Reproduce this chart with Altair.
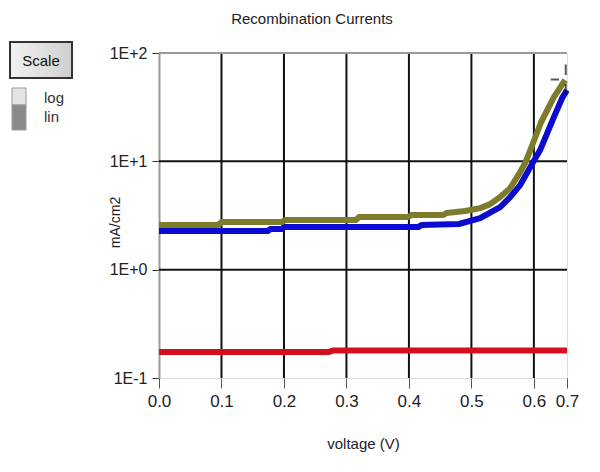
import altair as alt
import pandas as pd

# ---- data ----
olive_v = [0.0, 0.094, 0.100, 0.196, 0.202, 0.315, 0.320, 0.398, 0.404, 0.455, 0.46, 0.49, 0.514,
           0.53, 0.546, 0.562, 0.578, 0.586, 0.590, 0.611, 0.632, 0.650]
olive_i = [2.58, 2.58, 2.75, 2.75, 2.87, 2.87, 3.06, 3.06, 3.19, 3.19, 3.33, 3.48, 3.70,
           4.03, 4.68, 5.66, 7.96, 9.64, 10.96, 22.6, 39.2, 56.3]

blue_v = [0.0, 0.174, 0.178, 0.196, 0.200, 0.415, 0.420, 0.48, 0.514, 0.546, 0.562, 0.578,
          0.598, 0.61, 0.632, 0.646, 0.653]
blue_i = [2.27, 2.27, 2.37, 2.37, 2.47, 2.47, 2.58, 2.64, 2.99, 3.78, 4.68, 6.04,
          9.64, 12.7, 25.6, 39.2, 45.5]

red_v = [0.0, 0.272, 0.278, 0.653]
red_i = [0.174, 0.174, 0.179, 0.179]

series_names = ["red", "blue", "olive"]
series_colors = ["#d4101e", "#0c0cd0", "#7c7c2a"]

x_ticks = [0.0, 0.1, 0.2, 0.3, 0.4, 0.5, 0.6, 0.653]
x_grid = [0.1, 0.2, 0.3, 0.4, 0.5, 0.6]
y_ticks = [0.1, 1, 10, 100]
y_grid = [1, 10]
cursor_v = [0.651]
cursor_i = [57]

FONT = "Liberation Sans, Arial, sans-serif"
W, H = 408, 325

rows = []
for name, vs, cs in [("red", red_v, red_i), ("blue", blue_v, blue_i), ("olive", olive_v, olive_i)]:
    for k, (v, c) in enumerate(zip(vs, cs)):
        rows.append({"series": name, "order": k, "V": v, "I": c})
df = pd.DataFrame(rows)

xscale = alt.Scale(domain=[0, 0.653], nice=False, zero=False)
yscale = alt.Scale(type="log", domain=[0.1, 100], nice=False)

xaxis = alt.Axis(values=x_ticks, format=".1f", grid=False, domain=False,
                 labelOverlap=False, labelFlush=False,
                 tickColor="#555", tickSize=10, labelPadding=5,
                 labelFont=FONT, labelFontSize=17, labelColor="#222",
                 title="voltage (V)", titleFont=FONT, titleFontSize=15,
                 titleFontWeight="normal", titleColor="#222", titleY=65,
                 titleBaseline="middle")
yaxis = alt.Axis(values=y_ticks,
                 labelExpr="datum.value >= 1 ? '1E+' + round(log(datum.value)/LN10) : '1E-' + round(-log(datum.value)/LN10)",
                 grid=False, domain=True, domainColor="#9a9a9a", domainWidth=2,
                 labelOverlap=False, labelFlush=False,
                 tickColor="#333", tickSize=7, labelPadding=5,
                 labelFont=FONT, labelFontSize=16, labelColor="#222",
                 title="mA/cm2", titleFont=FONT, titleFontSize=14,
                 titleFontWeight="normal", titleColor="#222",
                 titleX=-44, titleY=169, titleAngle=-90,
                 titleAlign="center", titleBaseline="middle")

one = pd.DataFrame({"a": [0]})

vgrid = alt.Chart(pd.DataFrame({"V": x_grid})).mark_rule(color="#111", strokeWidth=2).encode(
    x=alt.X("V:Q", scale=xscale, axis=xaxis))
hgrid = alt.Chart(pd.DataFrame({"I": y_grid})).mark_rule(color="#111", strokeWidth=2).encode(
    y=alt.Y("I:Q", scale=yscale, axis=yaxis))
top = alt.Chart(one).mark_rule(color="#9a9a9a", strokeWidth=2).encode(
    y=alt.datum(100, scale=yscale))

lines = alt.Chart(df).mark_line(strokeWidth=6, strokeCap="butt", strokeJoin="round").encode(
    x=alt.X("V:Q", scale=xscale, axis=xaxis),
    y=alt.Y("I:Q", scale=yscale, axis=yaxis),
    color=alt.Color("series:N", scale=alt.Scale(domain=series_names, range=series_colors), legend=None),
    order="order:Q",
    detail="series:N",
)

cursor = alt.Chart(pd.DataFrame({"V": cursor_v, "I": cursor_i})).mark_point(
    shape="M-1,0H-0.45M0,-1V-0.3M0,0.3V1", stroke="#111", strokeWidth=2, size=900, filled=False
).encode(x=alt.X("V:Q", scale=xscale, axis=xaxis), y=alt.Y("I:Q", scale=yscale, axis=yaxis))

# ---- front-panel decorations (Scale button, log/lin switch) ----
btn = alt.Chart(one).mark_rect(
    fill=alt.Gradient(gradient="linear", stops=[alt.GradientStop(color="#f2f2f2", offset=0),
                                                alt.GradientStop(color="#cfcfcf", offset=1)],
                      x1=0, x2=1, y1=0, y2=0),
    stroke="#333", strokeWidth=2
).encode(x=alt.value(-149), x2=alt.value(-87), y=alt.value(-11), y2=alt.value(25))
btn_txt = alt.Chart(one).mark_text(text="Scale", font=FONT, fontSize=15, color="#111").encode(
    x=alt.value(-118), y=alt.value(8))
sw1 = alt.Chart(one).mark_rect(fill="#e4e4e4", stroke="#999", strokeWidth=1).encode(
    x=alt.value(-147), x2=alt.value(-133), y=alt.value(35), y2=alt.value(52))
sw2 = alt.Chart(one).mark_rect(fill="#8a8a8a", stroke="#999", strokeWidth=1).encode(
    x=alt.value(-147), x2=alt.value(-133), y=alt.value(52), y2=alt.value(77))
t_log = alt.Chart(one).mark_text(text="log", font=FONT, fontSize=15, color="#333", align="left").encode(
    x=alt.value(-115), y=alt.value(45))
t_lin = alt.Chart(one).mark_text(text="lin", font=FONT, fontSize=15, color="#333", align="left").encode(
    x=alt.value(-115), y=alt.value(64))

chart = alt.layer(vgrid, hgrid, top, lines, cursor, btn, btn_txt, sw1, sw2, t_log, t_lin).properties(
    width=W, height=H,
    title=alt.Title("Recombination Currents", font=FONT, fontSize=15, fontWeight="normal",
                    color="#222", dx=-51, offset=14, anchor="middle"),
    autosize=alt.AutoSizeParams(type="none"),
    padding={"left": 151, "top": 45, "right": 20, "bottom": 84},
).configure_view(stroke=None).configure(background="white")

chart.save("out.html", embed_options={"renderer": "svg", "actions": False})
